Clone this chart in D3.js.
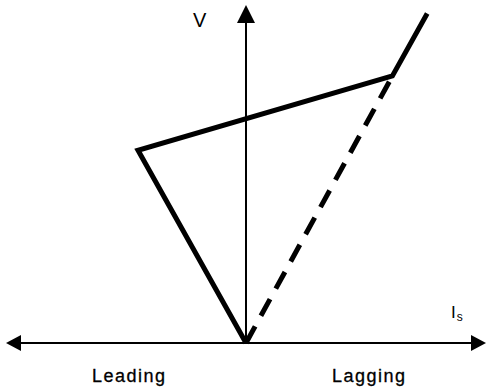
<!DOCTYPE html>
<html>
<head>
<meta charset="utf-8">
<script src="https://cdn.jsdelivr.net/npm/d3@7"></script>
<style>
  body { margin: 0; background: #fff; }
  svg { display: block; }
</style>
</head>
<body>
<div id="chart"></div>
<script>
const width = 487, height = 389;

// V-curve of a synchronous machine (armature current vs field voltage)
// x: current, leading < 0 < lagging ; y: voltage
const curveX = [0, -0.45, 0.61, 0.755];
const curveY = [0, 0.57, 0.79, 0.975];
// dashed line from origin to the knee
const dashX = [0, 0.61];
const dashY = [0, 0.79];

const sideLabels = ["Leading", "Lagging"];

const svg = d3.select("#chart")
    .append("svg")
    .attr("width", width)
    .attr("height", height);

const x = d3.scaleLinear().domain([-1, 1]).range([6, 486]);
const y = d3.scaleLinear().domain([0, 1]).range([343, 5]);

const line = d3.line()
    .x(d => x(d[0]))
    .y(d => y(d[1]));

// axes
svg.append("line")
    .attr("x1", x(-1) + 14).attr("x2", x(1) - 14)
    .attr("y1", y(0)).attr("y2", y(0))
    .attr("stroke", "#000")
    .attr("stroke-width", 2);

svg.append("line")
    .attr("x1", x(0)).attr("x2", x(0))
    .attr("y1", y(0)).attr("y2", y(1) + 16)
    .attr("stroke", "#000")
    .attr("stroke-width", 2);

// arrow heads
const heads = [
    [[x(1), y(0)], [x(1) - 15, y(0) - 8], [x(1) - 15, y(0) + 8]],
    [[x(-1), y(0)], [x(-1) + 15, y(0) - 8], [x(-1) + 15, y(0) + 8]],
    [[x(0), y(1)], [x(0) - 9, y(1) + 18], [x(0) + 9, y(1) + 18]]
];
svg.append("g")
    .selectAll("path")
    .data(heads)
    .join("path")
    .attr("d", d => "M" + d.join("L") + "Z")
    .attr("fill", "#000");

// dashed line
svg.append("path")
    .datum(d3.zip(dashX, dashY))
    .attr("d", line)
    .attr("fill", "none")
    .attr("stroke", "#000")
    .attr("stroke-width", 5)
    .attr("stroke-dasharray", "19,12");

// solid curve
svg.append("path")
    .datum(d3.zip(curveX, curveY))
    .attr("d", line)
    .attr("fill", "none")
    .attr("stroke", "#000")
    .attr("stroke-width", 5)
    .attr("stroke-linejoin", "miter");

// labels
const font = "'Liberation Sans', Arial, sans-serif";

svg.append("text")
    .attr("x", 193).attr("y", 27)
    .style("font", "20px " + font)
    .text("V");

const is = svg.append("text")
    .attr("x", 451).attr("y", 318)
    .style("font", "17px " + font);
is.append("tspan").text("I");
is.append("tspan")
    .attr("dy", 3)
    .attr("dx", 1)
    .style("font-size", "12px")
    .text("s");

svg.append("g")
    .selectAll("text")
    .data(sideLabels)
    .join("text")
    .attr("x", (d, i) => i === 0 ? 92 : 332)
    .attr("y", 382)
    .style("font", "18px " + font)
    .style("letter-spacing", "1.5px")
    .attr("stroke", "#000")
    .attr("stroke-width", 0.3)
    .text(d => d);
</script>
</body>
</html>
